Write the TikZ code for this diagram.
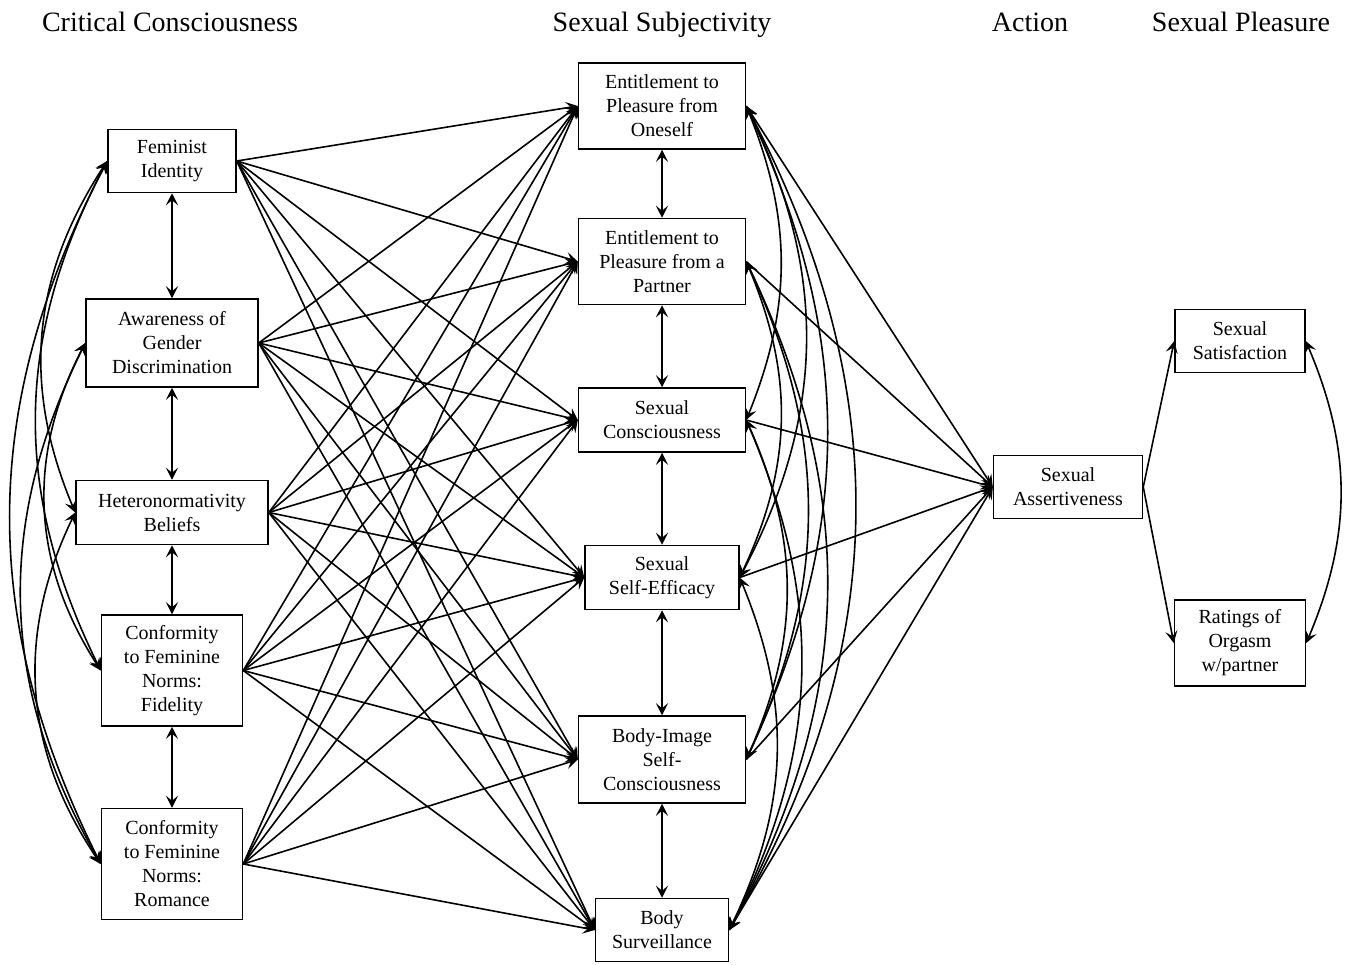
\documentclass[tikz,border=0pt]{standalone}
\usepackage{fontspec}
\setmainfont{Liberation Serif}
\usetikzlibrary{arrows.meta,positioning}
\tikzset{
  varbox/.style={
    rectangle, draw, line width=1.5pt, align=center, inner sep=0pt,
    font=\fontsize{20}{24}\selectfont
  },
  header/.style={anchor=base, font=\fontsize{28}{33}\selectfont},
  patharrow/.style={
    -{Stealth[length=12pt,width=12pt,inset=5pt]}, line width=1.6pt
  },
  covarrow/.style={
    {Stealth[length=12pt,width=12pt,inset=5pt]}-{Stealth[length=12pt,width=12pt,inset=5pt]},
    line width=1.6pt
  },
}

\begin{document}
\begin{tikzpicture}[x=1pt,y=-1pt]
  \useasboundingbox (0,0) rectangle (1352,964);

  %% Column headers
  \node[header] (hcc) at (170,31) {Critical Consciousness};
  \node[header] (hss) at (662,31) {Sexual Subjectivity};
  \node[header] (hac) at (1030,31) {Action};
  \node[header] (hsp) at (1241,31) {Sexual Pleasure};

  %% Critical consciousness (left column)
  \node[varbox, minimum width=128pt, minimum height=63pt] (fem) at (172,161) {Feminist\\Identity};
  \node[varbox, minimum width=172pt, minimum height=88pt, below=105pt of fem] (awa) {Awareness of\\Gender\\Discrimination};
  \node[varbox, minimum width=192pt, minimum height=64pt, below=92pt of awa] (het) {Heteronormativity\\Beliefs};
  \node[varbox, minimum width=141pt, minimum height=111pt, below=69pt of het] (fid) {Conformity\\to Feminine\\Norms:\\Fidelity};
  \node[varbox, minimum width=141pt, minimum height=111pt, below=81pt of fid] (rom) {Conformity\\to Feminine\\Norms:\\Romance};

  %% Sexual subjectivity (middle column)
  \node[varbox, minimum width=167pt, minimum height=86pt] (epo) at (662,106) {Entitlement to\\Pleasure from\\Oneself};
  \node[varbox, minimum width=167pt, minimum height=86pt, below=68pt of epo] (epp) {Entitlement to\\Pleasure from a\\Partner};
  \node[varbox, minimum width=167pt, minimum height=64pt, below=82pt of epp] (sco) {Sexual\\Consciousness};
  \node[varbox, minimum width=154pt, minimum height=64pt, below=92pt of sco] (sse) {Sexual\\Self-Efficacy};
  \node[varbox, minimum width=167pt, minimum height=87pt, below=105pt of sse] (bis) {Body-Image\\Self-\\Consciousness};
  \node[varbox, minimum width=133pt, minimum height=63pt, below=94pt of bis] (bsv) {Body\\Surveillance};

  %% Action and pleasure (right)
  \node[varbox, minimum width=149pt, minimum height=63pt] (sas) at (1068,487) {Sexual\\Assertiveness};
  \node[varbox, minimum width=130pt, minimum height=63pt] (sat) at (1240,341) {Sexual\\Satisfaction};
  \node[varbox, minimum width=131pt, minimum height=86pt] (org) at (1240,643) {Ratings of\\Orgasm\\w/partner};

  %% Paths: critical consciousness -> sexual subjectivity
  \foreach \src in {fem,awa,het,fid,rom}
    \foreach \dst in {epo,epp,sco,sse,bis,bsv}
      \draw[patharrow] (\src.east) -- (\dst.west);

  %% Paths: sexual subjectivity -> assertiveness
  \foreach \src in {epo,epp,sco,sse,bis,bsv}
    \draw[patharrow] (\src.east) -- (sas.west);

  \draw[patharrow] (sas.east) -- (sat.west);
  \draw[patharrow] (sas.east) -- (org.west);

  %% Covariances between neighbours
  \draw[covarrow] (fem.south) -- (awa.north);
  \draw[covarrow] (awa.south) -- (het.north);
  \draw[covarrow] (het.south) -- (fid.north);
  \draw[covarrow] (fid.south) -- (rom.north);

  \draw[covarrow] (epo.south) -- (epp.north);
  \draw[covarrow] (epp.south) -- (sco.north);
  \draw[covarrow] (sco.south) -- (sse.north);
  \draw[covarrow] (sse.south) -- (bis.north);
  \draw[covarrow] (bis.south) -- (bsv.north);

  %% Covariances, left side curves
  \draw[covarrow] (fem.west) to[bend right=28] (het.west);
  \draw[covarrow] (fem.west) to[bend right=27] (fid.west);
  \draw[covarrow] (fem.west) to[bend right=27] (rom.west);
  \draw[covarrow] (awa.west) to[bend right=30] (fid.west);
  \draw[covarrow] (awa.west) to[bend right=28] (rom.west);
  \draw[covarrow] (het.west) to[bend right=30] (rom.west);

  %% Covariances, right side curves
  \draw[covarrow] (epo.east) to[bend left=22] (sco.east);
  \draw[covarrow] (epo.east) to[bend left=27] (sse.east);
  \draw[covarrow] (epo.east) to[bend left=25] (bis.east);
  \draw[covarrow] (epo.east) to[bend left=29] (bsv.east);
  \draw[covarrow] (epp.east) to[bend left=24] (sse.east);
  \draw[covarrow] (epp.east) to[bend left=25] (bis.east);
  \draw[covarrow] (epp.east) to[bend left=27] (bsv.east);
  \draw[covarrow] (sco.east) to[bend left=24] (bis.east);
  \draw[covarrow] (sco.east) to[bend left=25] (bsv.east);
  \draw[covarrow] (sse.east) to[bend left=24] (bsv.east);

  \draw[covarrow] (sat.east) to[bend left=23] (org.east);

\end{tikzpicture}
\end{document}
